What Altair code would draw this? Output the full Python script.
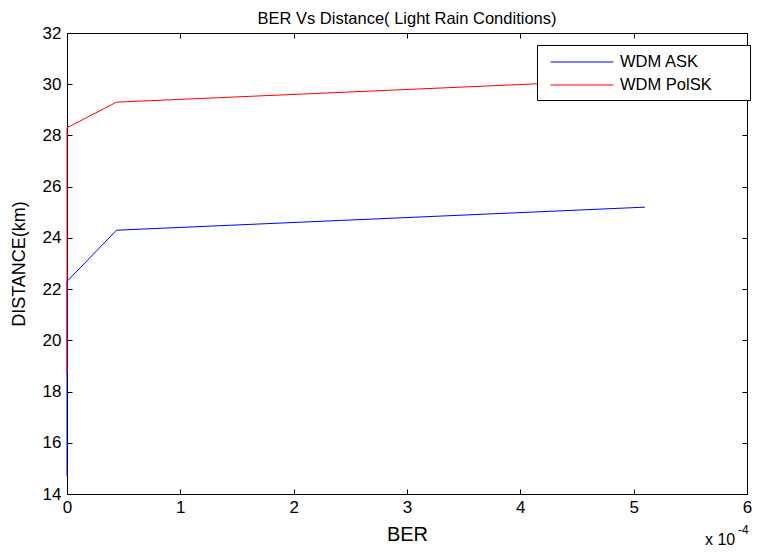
import altair as alt
import pandas as pd

# BER values in units of 1e-4
ask_ber = [0.0, 0.0, 0.437, 5.1]
ask_dist = [14.7, 22.3, 24.3, 25.2]
polsk_ber = [0.0, 0.0, 0.437, 5.1]
polsk_dist = [18.7, 28.3, 29.3, 30.2]
series_names = ["WDM ASK", "WDM PolSK"]
series_colors = ["#0000ff", "#ff0000"]
x_ticks = [0, 1, 2, 3, 4, 5, 6]
y_ticks = [14, 16, 18, 20, 22, 24, 26, 28, 30, 32]

rows = []
for i, (b, d) in enumerate(zip(ask_ber, ask_dist)):
    rows.append({"series": series_names[0], "ber": b, "dist": d, "idx": i})
for i, (b, d) in enumerate(zip(polsk_ber, polsk_dist)):
    rows.append({"series": series_names[1], "ber": b, "dist": d, "idx": i})
df = pd.DataFrame(rows)

FONT = "Liberation Sans"
xdom = [x_ticks[0], x_ticks[-1]]
ydom = [y_ticks[0], y_ticks[-1]]

base_axis = dict(
    offset=-5, tickSize=5, domain=False, tickColor="#000000", tickWidth=1,
    labelFont=FONT, labelFontSize=17, labelColor="#000000",
    titleFont=FONT, titleFontWeight="normal", titleColor="#000000",
    grid=False,
)

lines = alt.Chart(df).mark_line(strokeWidth=1).encode(
    x=alt.X("ber:Q", scale=alt.Scale(domain=xdom, nice=False, zero=False),
            axis=alt.Axis(values=x_ticks, title="BER", titleFontSize=20, labelPadding=5,
                          titlePadding=9, labelFlush=False, **base_axis)),
    y=alt.Y("dist:Q", scale=alt.Scale(domain=ydom, nice=False, zero=False),
            axis=alt.Axis(values=y_ticks, title="DISTANCE(km)", titleFontSize=18, labelPadding=6,
                          titlePadding=14, labelFlush=False, **base_axis)),
    color=alt.Color("series:N", scale=alt.Scale(domain=series_names, range=series_colors),
                    legend=alt.Legend(title=None, orient="none", legendX=470, legendY=12,
                                      symbolType="M-3,0H3M15.2,0", symbolSize=441, symbolStrokeWidth=1,
                                      symbolOffset=28, labelOffset=27,
                                      labelFont=FONT, labelFontSize=16.5, labelColor="#000000",
                                      strokeColor="#000000", fillColor="#ffffff",
                                      padding=6, rowPadding=3)),
    order="idx:Q",
)

frame = alt.Chart(df).mark_point(opacity=0).encode(
    x=alt.X("ber:Q", scale=alt.Scale(domain=xdom, nice=False, zero=False),
            axis=alt.Axis(values=x_ticks, orient="top", labels=False, title=None, **base_axis)),
    y=alt.Y("dist:Q", scale=alt.Scale(domain=ydom, nice=False, zero=False),
            axis=alt.Axis(values=y_ticks, orient="right", labels=False, title=None, **base_axis)),
)

exp_base = alt.Chart(pd.DataFrame({"t": ["x 10"]})).mark_text(
    font=FONT, fontSize=16, color="#000000", align="left", baseline="alphabetic"
).encode(x=alt.value(638), y=alt.value(512), text="t:N")
exp_sup = alt.Chart(pd.DataFrame({"t": ["-4"]})).mark_text(
    font=FONT, fontSize=12, color="#000000", align="left", baseline="alphabetic"
).encode(x=alt.value(671), y=alt.value(501), text="t:N")

chart = alt.layer(frame, lines, exp_base, exp_sup).resolve_scale(
    x="independent", y="independent"
).properties(
    width=680, height=461,
    autosize=alt.AutoSizeParams(type="none"),
    padding={"left": 59, "top": 25, "right": 5, "bottom": 53},
    title=alt.Title("BER Vs Distance( Light Rain Conditions)", font=FONT, fontSize=16.5,
                    fontWeight="normal", color="#000000", offset=-3),
).configure_view(stroke="#000000", strokeWidth=1)

chart.save("out.html", embed_options={"renderer": "svg", "actions": False})
